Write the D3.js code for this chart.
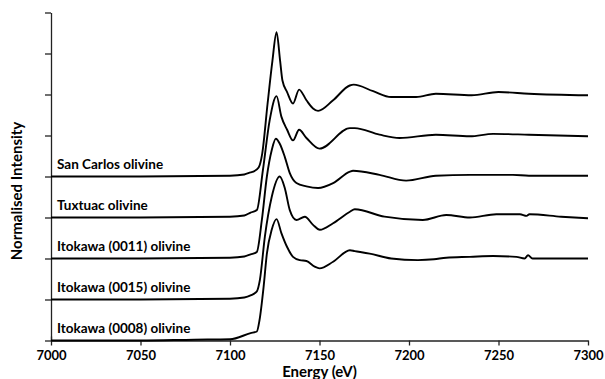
<!DOCTYPE html>
<html>
<head>
<meta charset="utf-8">
<script src="https://cdn.jsdelivr.net/npm/d3@7"></script>
<style>
  body { margin: 0; background: #fff; }
  svg { display: block; font-family: Lato, "Open Sans", sans-serif; }
  .axis path, .axis line { stroke: #222; stroke-width: 1.3; }
</style>
</head>
<body>
<div id="chart"></div>
<script>
// energy ticks and series names
const xTicks = [7000, 7050, 7100, 7150, 7200, 7250, 7300];
const seriesNames = ["San Carlos olivine", "Tuxtuac olivine", "Itokawa (0011) olivine", "Itokawa (0015) olivine", "Itokawa (0008) olivine"];
const seriesOffsets = [2, 1.5, 1, 0.5, 0];

// normalised spectra (energy in eV, intensity before stacking offset)
const sanCarlosE = [7000, 7050, 7100, 7108, 7111.5, 7113, 7116, 7118, 7121, 7123.7, 7126, 7128, 7129.3, 7131.9, 7135.2, 7138.6, 7142.7, 7146.4, 7149.2, 7157.6, 7166.9, 7169.1, 7180, 7190, 7204, 7215, 7235, 7250, 7267, 7300];
const sanCarlosMu = [0, 0, 0.01, 0.025, 0.05, 0.06, 0.11, 0.28, 0.89, 1.41, 1.76, 1.41, 1.17, 1.03, 0.89, 1.06, 0.93, 0.83, 0.80, 0.93, 1.11, 1.12, 1.04, 0.97, 0.97, 1.01, 0.99, 1.03, 1.01, 0.99];

const tuxtuacE = [7000, 7050, 7100, 7108, 7111.5, 7115, 7118.4, 7122.2, 7126, 7128.7, 7131.9, 7135.2, 7138.6, 7142.7, 7150, 7167, 7169.7, 7183.5, 7194.7, 7215, 7234, 7247, 7267, 7300];
const tuxtuacMu = [0, 0, 0.01, 0.025, 0.06, 0.09, 0.58, 1.19, 1.48, 1.23, 1.07, 0.94, 1.07, 0.97, 0.84, 1.09, 1.09, 1.01, 0.97, 1.01, 0.99, 1.02, 1.01, 0.99];

const itokawa0011E = [7000, 7050, 7100, 7108, 7111.5, 7115, 7117.8, 7120.6, 7123.3, 7125.6, 7127.8, 7130.6, 7133.4, 7137.1, 7142.7, 7149.2, 7157.6, 7167, 7168.7, 7183.5, 7198.4, 7215, 7234, 7258, 7267, 7300];
const itokawa0011Mu = [0, 0, 0.01, 0.025, 0.05, 0.08, 0.47, 1.0, 1.32, 1.46, 1.40, 1.24, 1.04, 0.92, 0.88, 0.86, 0.92, 1.06, 1.07, 1.02, 0.95, 1.01, 1.02, 1.02, 1.01, 1.01];

const itokawa0015E = [7000, 7050, 7100, 7108, 7111.5, 7115, 7116.7, 7119.5, 7123.3, 7127.8, 7130.6, 7133.4, 7137.1, 7141.8, 7146.4, 7150.2, 7157.6, 7167, 7169.7, 7186.3, 7207.7, 7220.8, 7234, 7248.8, 7262, 7265.7, 7267.3, 7285, 7300];
const itokawa0015Mu = [0, 0, 0.01, 0.025, 0.05, 0.10, 0.24, 0.77, 1.25, 1.50, 1.36, 1.09, 0.97, 1.01, 0.91, 0.85, 0.93, 1.07, 1.10, 1.01, 0.97, 1.03, 1.00, 1.04, 1.04, 1.02, 1.04, 1.01, 0.99];

const itokawa0008E = [7000, 7050, 7080, 7100, 7111.5, 7115, 7116.5, 7118.8, 7120.6, 7123.3, 7126, 7128.7, 7131.9, 7135.2, 7139, 7142.7, 7147.3, 7150, 7157.6, 7167, 7169.7, 7178, 7190, 7205, 7214, 7220.8, 7234, 7247, 7260, 7264.6, 7266.5, 7269, 7285, 7300];
const itokawa0008Mu = [0, 0, 0.01, 0.015, 0.09, 0.11, 0.25, 0.66, 1.06, 1.35, 1.48, 1.31, 1.14, 1.02, 0.98, 0.97, 0.90, 0.88, 0.96, 1.10, 1.09, 1.06, 1.00, 0.98, 0.99, 1.01, 1.02, 1.03, 1.02, 1.00, 1.04, 1.00, 1.00, 1.00];

const seriesE = [sanCarlosE, tuxtuacE, itokawa0011E, itokawa0015E, itokawa0008E];
const seriesMu = [sanCarlosMu, tuxtuacMu, itokawa0011Mu, itokawa0015Mu, itokawa0008Mu];

const W = 605, H = 379;
const margin = { top: 12.5, right: 17, bottom: 38.5, left: 51 };
const width = W - margin.left - margin.right;
const height = H - margin.top - margin.bottom;

const svg = d3.select('#chart').append('svg')
  .attr('width', W)
  .attr('height', H);

const chart = svg.append('g')
  .attr('transform', `translate(${margin.left},${margin.top})`);

const x = d3.scaleLinear().domain([7000, 7300]).range([0, width]);
const y = d3.scaleLinear().domain([0, 4]).range([height, 0]);

// y axis, no labels
chart.append('g')
  .attr('class', 'axis axis-y')
  .call(d3.axisLeft(y).tickValues(d3.range(0, 4.01, 0.5)).tickSize(6).tickSizeOuter(0).tickFormat(''));

// x axis
const xAxis = chart.append('g')
  .attr('class', 'axis axis-x')
  .attr('transform', `translate(0,${height})`)
  .call(d3.axisBottom(x).tickValues(xTicks).tickSize(5).tickSizeOuter(0).tickPadding(5).tickFormat(d3.format('d')));
xAxis.selectAll('text')
  .style('font-size', '13px')
  .style('font-weight', 'bold')
  .style('fill', '#000')
  .style('font-family', 'Lato, sans-serif');
// first tick crosses the axis line
xAxis.select('.tick line').attr('y1', -4);

// spectra
const line = d3.line()
  .x(d => x(d[0]))
  .y(d => y(d[1]))
  .curve(d3.curveMonotoneX);

seriesE.forEach((es, i) => {
  const pts = es.map((e, j) => [e, seriesMu[i][j] + seriesOffsets[i]]);
  chart.append('path')
    .datum(pts)
    .attr('fill', 'none')
    .attr('stroke', '#000')
    .attr('stroke-width', 1.9)
    .attr('stroke-linejoin', 'round')
    .attr('d', line);

  chart.append('text')
    .attr('x', 6)
    .attr('y', y(seriesOffsets[i]) - 8)
    .style('font-size', '13.5px')
    .style('font-weight', 'bold')
    .text(seriesNames[i]);
});

// axis titles
svg.append('text')
  .attr('x', margin.left + width / 2)
  .attr('y', 377)
  .attr('text-anchor', 'middle')
  .style('font-size', '15px')
  .style('font-weight', 'bold')
  .text('Energy (eV)');

svg.append('text')
  .attr('transform', 'translate(22,191) rotate(-90)')
  .attr('text-anchor', 'middle')
  .style('font-size', '15px')
  .style('font-weight', 'bold')
  .text('Normalised Intensity');
</script>
</body>
</html>
